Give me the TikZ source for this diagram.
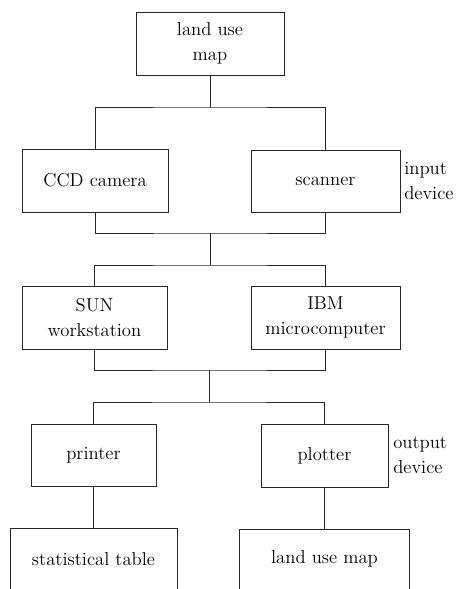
\documentclass[tikz,border=0pt]{standalone}
\begin{document}
\begin{tikzpicture}[x=0.75pt,y=-0.75pt,
  box/.style={draw=black!85,line width=0.7pt,inner sep=0pt,align=center,
    font=\fontsize{14}{19}\selectfont},
  lbl/.style={inner sep=0pt,align=left,anchor=west,
    font=\fontsize{14}{19}\selectfont},
  conn/.style={draw=black!85,line width=0.7pt}]
\def\px{*0.75pt}
\useasboundingbox (0,0) rectangle (457,589);
\clip (0,0) rectangle (457,589);
\node[box,minimum width=148\px,minimum height=63\px] (top) at (210,43.5) {land use\\map};
\node[box,minimum width=146\px,minimum height=63\px] (ccd) at (95,180.5) {CCD camera};
\node[box,minimum width=149\px,minimum height=62\px] (scan) at (325.5,181) {scanner};
\node[box,minimum width=145\px,minimum height=63\px] (sun) at (94.5,317.5) {SUN\\workstation};
\node[box,minimum width=149\px,minimum height=63\px] (ibm) at (325.5,317.5) {IBM\\microcomputer};
\node[box,minimum width=125\px,minimum height=62\px] (prn) at (93.5,455) {printer};
\node[box,minimum width=127\px,minimum height=63\px] (plt) at (324.5,455.5) {plotter};
\node[box,minimum width=167\px,minimum height=100\px] (stat) at (93.5,578) {};
\node[box,minimum width=170\px,minimum height=100\px] (lmap) at (324.5,579) {};
\node[inner sep=0pt,font=\fontsize{14}{19}\selectfont] (stattxt) at (93.5,559) {statistical table};
\node[inner sep=0pt,font=\fontsize{14}{19}\selectfont] (lmaptxt) at (324.5,559) {land use map};
\node[lbl] (inp) at (404,181) {input\\device};
\node[lbl] (outp) at (393,455.5) {output\\device};
\coordinate (j1) at (210,107);
\coordinate (j2) at (210,233);
\coordinate (j3) at (210,265);
\coordinate (j4) at (209.5,370);
\coordinate (j5) at (209.5,402);
\draw[conn] (top.south) -- (j1);
\draw[conn] (ccd.north) |- (j1) -| (scan.north);
\draw[conn] (ccd.south) |- (j2) -| (scan.south);
\draw[conn] (j2) -- (j3);
\draw[conn] (sun.north) |- (j3) -| (ibm.north);
\draw[conn] (sun.south) |- (j4) -| (ibm.south);
\draw[conn] (j4) -- (j5);
\draw[conn] (prn.north) |- (j5) -| (plt.north);
\draw[conn] (prn.south) -- (stat.north);
\draw[conn] (plt.south) -- (lmap.north);
\end{tikzpicture}
\end{document}
